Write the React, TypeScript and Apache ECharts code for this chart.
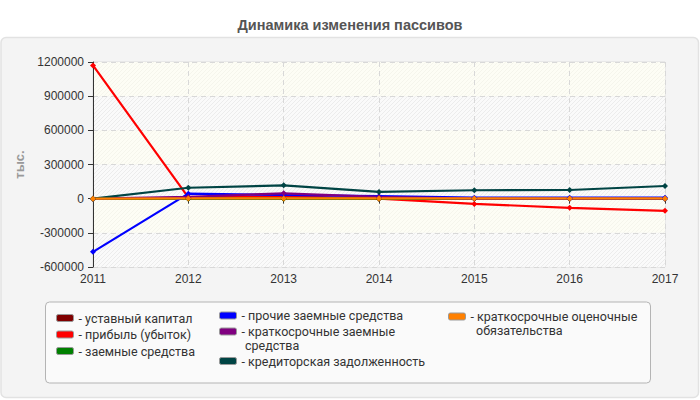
import { useEffect, useRef } from "react";
import * as echarts from "echarts";

const YEARS = ["2011", "2012", "2013", "2014", "2015", "2016", "2017"];

// тыс. руб.
const CHARTER = [10, 10, 10, 10, 10, 10, 10];
const PROFIT = [1170000, 12000, 22000, 0, -46000, -80000, -107000];
const LOANS = [0, 0, 0, 0, 0, 0, 0];
const OTHER_LOANS = [-467000, 44000, 32000, 22000, 9000, 9000, 9000];
const SHORT_LOANS = [0, 15000, 47000, 15000, 0, 0, 0];
const PAYABLES = [0, 96000, 117000, 59000, 74000, 76000, 111000];
const RESERVES = [0, 2000, 2000, 2000, 2000, 2000, 2000];

const NAMES = [
  "уставный капитал",
  "прибыль (убыток)",
  "заемные средства",
  "прочие заемные средства",
  "краткосрочные заемные",
  "кредиторская задолженность",
  "краткосрочные оценочные",
];
const COLORS = ["#800000", "#ff0000", "#008000", "#0000ff", "#800080", "#004444", "#ff8000"];
const VALUES = [CHARTER, PROFIT, LOANS, OTHER_LOANS, SHORT_LOANS, PAYABLES, RESERVES];

const FONT = "'Liberation Sans', Arial, sans-serif";
const LEGEND_FONT = "Roboto, 'Liberation Sans', sans-serif";

/** штриховка «////» для фона области построения */
function hatch(bg: string, line: string) {
  const c = document.createElement("canvas");
  c.width = 4;
  c.height = 4;
  const ctx = c.getContext("2d")!;
  ctx.fillStyle = bg;
  ctx.fillRect(0, 0, 4, 4);
  ctx.strokeStyle = line;
  ctx.lineWidth = 1;
  ctx.beginPath();
  ctx.moveTo(0, 4);
  ctx.lineTo(4, 0);
  ctx.moveTo(-1, 1);
  ctx.lineTo(1, -1);
  ctx.moveTo(3, 5);
  ctx.lineTo(5, 3);
  ctx.stroke();
  return { image: c.toDataURL(), repeat: "repeat", imageWidth: 4, imageHeight: 4 };
}

export default function App() {
  const elRef = useRef<HTMLDivElement>(null);

  useEffect(() => {
    const el = elRef.current;
    if (!el) return;
    const chart = echarts.init(el, null, { renderer: "svg" });

    const legendText = { fontFamily: LEGEND_FONT, fontSize: 12.5, color: "#333", lineHeight: 14 };
    const legendBase = {
      orient: "vertical" as const,
      padding: 0,
      itemWidth: 17,
      itemHeight: 7,
      itemGap: 2.5,
      icon: "roundRect",
      itemStyle: { borderColor: "#999", borderWidth: 1 },
      textStyle: legendText,
      formatter: (n: string) => `- ${n}`,
      selectedMode: false,
    };

    chart.setOption({
      animation: false,
      backgroundColor: "#fff",
      title: {
        text: "Динамика изменения пассивов",
        left: "center",
        top: 12,
        textStyle: { fontFamily: FONT, fontSize: 14.5, fontWeight: "bold", color: "#555" },
      },
      graphic: [
        {
          type: "rect",
          z: -100,
          silent: true,
          shape: { x: 1, y: 37.5, width: 697.5, height: 360, r: 5 },
          style: { fill: "#f4f4f4", stroke: "#e2e2e2", lineWidth: 1.5 },
        },
        {
          type: "rect",
          z: -90,
          silent: true,
          shape: { x: 45.5, y: 302, width: 605, height: 81, r: 4 },
          style: { fill: "#fafafa", stroke: "#b4b4b4", lineWidth: 1 },
        },
        {
          type: "text",
          x: 245,
          y: 345,
          style: { text: "средства", fill: "#333", font: `12.5px ${LEGEND_FONT}`, verticalAlign: "middle" },
        },
        {
          type: "text",
          x: 476,
          y: 330,
          style: { text: "обязательства", fill: "#333", font: `12.5px ${LEGEND_FONT}`, verticalAlign: "middle" },
        },
      ],
      legend: [
        { ...legendBase, left: 56, top: 311, data: NAMES.slice(0, 3) },
        { ...legendBase, left: 219, top: 308.5, itemGap: 2, data: NAMES.slice(3, 5) },
        { ...legendBase, left: 219, top: 354, data: [NAMES[5]] },
        { ...legendBase, left: 448, top: 309.5, data: [NAMES[6]] },
      ],
      grid: {
        left: 93,
        right: 35,
        top: 62,
        bottom: 133,
        show: true,
        borderColor: "#dcdcdc",
        borderWidth: 1,
        backgroundColor: "transparent",
      },
      xAxis: {
        type: "category",
        data: YEARS,
        boundaryGap: false,
        axisLine: { lineStyle: { color: "#333", width: 1 } },
        axisTick: { show: true, length: 5, lineStyle: { color: "#333" } },
        axisLabel: { color: "#333", fontFamily: FONT, fontSize: 12, margin: 6 },
        splitLine: { show: true, lineStyle: { color: "#d8d8d8", type: [5, 4] } },
      },
      yAxis: {
        type: "value",
        min: -600000,
        max: 1200000,
        interval: 300000,
        name: "тыс.",
        nameLocation: "middle",
        nameGap: 66,
        nameTextStyle: { color: "#999", fontFamily: FONT, fontSize: 13, fontWeight: "bold" },
        axisLine: { show: true, lineStyle: { color: "#333", width: 1 } },
        axisTick: { show: true, length: 5, lineStyle: { color: "#333" } },
        axisLabel: { color: "#333", fontFamily: FONT, fontSize: 12, margin: 9, formatter: (v: number) => String(v) },
        splitLine: { show: true, lineStyle: { color: "#d8d8d8", type: [5, 4] } },
        splitArea: {
          show: true,
          areaStyle: { color: [hatch("#fafafa", "#ececec"), hatch("#fdfdf5", "#f5f5ec")] },
        },
      },
      series: NAMES.map((name, i) => ({
        name,
        type: "line",
        data: VALUES[i],
        symbol: "diamond",
        symbolSize: 6,
        showSymbol: true,
        itemStyle: { color: COLORS[i] },
        lineStyle: { color: COLORS[i], width: 2.2 },
      })),
    });

    return () => chart.dispose();
  }, []);

  return <div ref={elRef} style={{ position: "fixed", left: 0, top: 0, width: 700, height: 400 }} />;
}
